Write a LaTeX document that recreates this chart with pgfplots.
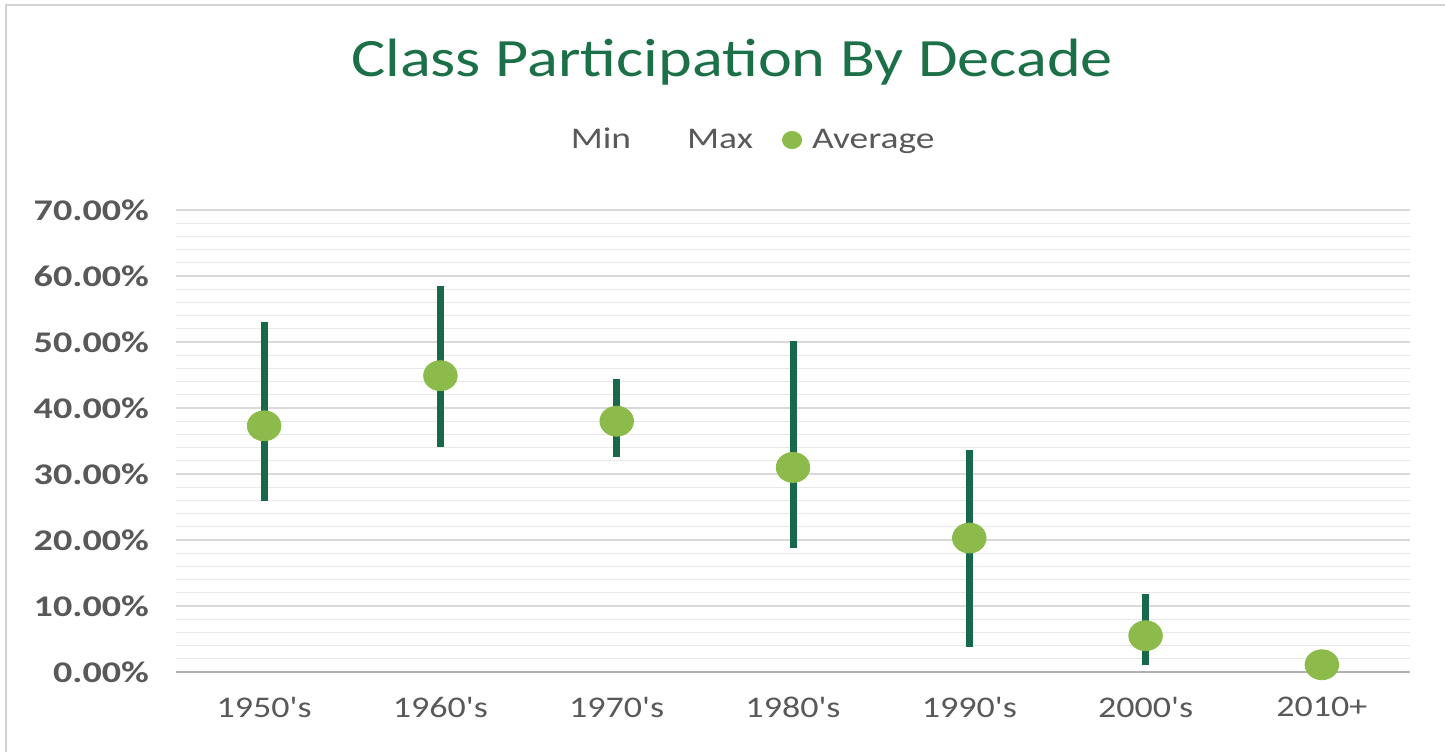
\documentclass[border=0pt]{standalone}
\usepackage{fontspec}
\setmainfont{Carlito}
\usepackage{pgfplots}
\pgfplotsset{compat=1.18}
\usepackage{pgfplotstable}
\definecolor{titlegreen}{HTML}{1B7048}
\definecolor{bargreen}{HTML}{17694A}
\definecolor{dotgreen}{HTML}{8CBB4C}
\definecolor{labgray}{HTML}{595959}
\definecolor{gridgray}{HTML}{D9D9D9}
\definecolor{minorgray}{HTML}{E8E8E8}
\newcommand{\sx}[2][1.22]{\scalebox{#1}[1]{#2}}

\pgfplotstableread{
x min max avg
0 25.9 53.0 37.3
1 34.1 58.5 44.9
2 32.6 44.4 38.0
3 18.8 50.2 31.0
4 3.8 33.7 20.3
5 1.0 11.8 5.5
6 1.1 1.1 1.1
}\datatable

\begin{document}
\begin{tikzpicture}[x=1pt,y=1pt]
\path[use as bounding box] (0,0) rectangle (722.5,376);
\draw[gray!35, line width=0.8pt] (3,0) -- (3,373.5) -- (722.5,373.5);
\node[font=\fontsize{27}{32}\selectfont, text=titlegreen] at (366,345) {\sx[1.19]{Class Participation By Decade}};
\begin{axis}[
  at={(88pt,40pt)}, anchor=south west, scale only axis,
  width=617pt, height=231pt,
  xmin=-0.5, xmax=6.5, ymin=0, ymax=70,
  xtick={0,1,2,3,4,5,6},
  xticklabels={\sx[1.2]{1950\textquotesingle s},\sx[1.2]{1960\textquotesingle s},\sx[1.2]{1970\textquotesingle s},\sx[1.2]{1980\textquotesingle s},\sx[1.2]{1990\textquotesingle s},\sx[1.2]{2000\textquotesingle s},\sx[1.2]{2010+}},
  ytick={0,10,20,30,40,50,60,70},
  minor y tick num=4,
  ymajorgrids, yminorgrids,
  major grid style={gridgray, line width=0.8pt},
  minor grid style={minorgray, line width=0.6pt},
  axis line style={draw=none},
  xtick pos=bottom, ytick pos=left,
  tick style={draw=none},
  /pgf/number format/assume math mode=true,
  yticklabel={\sx[1.27]{\pgfmathprintnumber[fixed,fixed zerofill,precision=2]{\tick}\%}},
  yticklabel style={font=\fontsize{15}{18}\selectfont\bfseries, text=labgray, anchor=east, xshift=-10pt},
  xticklabel style={font=\fontsize{15}{18}\selectfont, text=labgray, yshift=-9pt},
  clip=false,
  legend style={at={(0.458,1.1515)}, anchor=center, draw=none, fill=none,
    font=\fontsize{15}{18}\selectfont, text=labgray, legend columns=3,
    /tikz/every even column/.append style={column sep=12.5pt}},
]
\draw[gray!60, line width=1pt] (axis cs:-0.5,0) -- (axis cs:6.5,0);
\addplot[draw=none, mark=none, forget plot,
  error bars/.cd, y dir=both, y explicit, error mark=none,
  error bar style={line width=3.5pt, bargreen}]
  table[x=x, y=avg, y error plus expr=\thisrow{max}-\thisrow{avg}, y error minus expr=\thisrow{avg}-\thisrow{min}] {\datatable};
\addplot[only marks, mark=*, mark size=7.5pt, mark options={xscale=1.12, fill=dotgreen, draw=dotgreen}, forget plot]
  table[x=x, y=avg] {\datatable};
\addlegendimage{legend image code/.code={\path[draw=none,fill=none] (0,0) rectangle (11.5pt,1pt);}}
\addlegendentry{\sx[1.25]{Min}}
\addlegendimage{legend image code/.code={\path[draw=none,fill=none] (0,0) rectangle (11.5pt,1pt);}}
\addlegendentry{\sx[1.25]{Max}}
\addlegendimage{legend image code/.code={\path[draw=none,fill=none] (0,0) -- (12pt,0); \fill[dotgreen] (4pt,0) ellipse (4.8pt and 4.3pt);}}
\addlegendentry{\sx[1.25]{Average}}
\end{axis}
\end{tikzpicture}
\end{document}
